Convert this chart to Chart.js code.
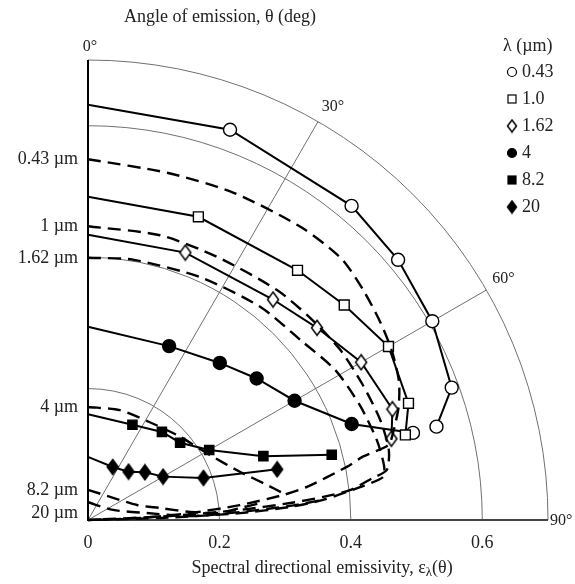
<!DOCTYPE html>
<html><head><meta charset="utf-8">
<script src="https://cdn.jsdelivr.net/npm/chart.js@4.4.0/dist/chart.umd.min.js"></script>
<style>html,body{margin:0;padding:0;background:#fff;overflow:hidden}</style>
</head><body>
<canvas id="c" width="575" height="584" style="width:575px;height:584px;display:block"></canvas>
<script>
// ---------- data ----------
const wavelengths = ['0.43', '1.0', '1.62', '4', '8.2', '20'];
const curveLabels = ['0.43 µm', '1 µm', '1.62 µm', '4 µm', '8.2 µm', '20 µm'];
const xTicks = [0, 0.2, 0.4, 0.6];
const gridRadii = [0.2, 0.4, 0.6, 0.7];
const gridAngles = [30, 60];
const angleLabels = ['0°', '30°', '60°', '90°'];

// measured (theta in deg, spectral directional emissivity)
const thetaVis = [0, 20, 40, 50, 60, 70, 75];
const thetaIR  = [0, 25, 40, 50, 60, 70, 75];
const meas043 = [0.632, 0.632, 0.624, 0.616, 0.605, 0.589, 0.549];
const meas100 = [0.492, 0.491, 0.496, 0.509, 0.528, 0.519, 0.500];
const meas162 = [0.434, 0.433, 0.438, 0.455, 0.480, 0.493, 0.478];
const meas400 = [0.294, 0.292, 0.312, 0.335, 0.363, 0.427, 0.512];
const meas820 = [0.161, 0.160, 0.175, 0.183, 0.213, 0.284, 0.384];
const meas2000 = [0.096, 0.089, 0.096, 0.113, 0.132, 0.187, 0.298];

// electromagnetic-theory curves (dashed)
const thTh043 = [0, 13, 24, 36, 44, 50, 56, 61, 66, 70, 74, 76, 77, 78.4, 81.4, 82.7, 84.4, 86.1, 87.8, 90];
const epTh043 = [0.549, 0.542, 0.545, 0.551, 0.554, 0.546, 0.537, 0.529, 0.518, 0.503, 0.483, 0.471, 0.430, 0.402, 0.337, 0.299, 0.232, 0.156, 0.079, 0];
const thTh100 = [0, 14.2, 26.1, 39.4, 47.7, 56, 63.9, 71.1, 76.9, 80.5, 81.6, 83.5, 84.4, 85.2, 86.2, 87.2, 90];
const epTh100 = [0.447, 0.447, 0.446, 0.453, 0.457, 0.463, 0.466, 0.470, 0.470, 0.461, 0.438, 0.401, 0.359, 0.309, 0.232, 0.125, 0];
const thTh162 = [0, 9.8, 24.7, 38.9, 50, 58.7, 67.1, 74.5, 79.5, 81.7, 83.1, 85.1, 86.3, 87.4, 88.4, 90];
const epTh162 = [0.399, 0.402, 0.407, 0.417, 0.424, 0.440, 0.449, 0.456, 0.458, 0.454, 0.417, 0.359, 0.308, 0.232, 0.110, 0];
const thTh400 = [0, 16.2, 32.3, 47.9, 61.9, 72.5, 78.5, 82.5];
const epTh400 = [0.172, 0.174, 0.176, 0.189, 0.210, 0.243, 0.275, 0.302];
const thTh820 = [0, 48.6, 73, 80.5, 85.5, 86.9, 85.5, 84.4];
const epTh820 = [0.046, 0.051, 0.078, 0.111, 0.156, 0.197, 0.232, 0.263];
const thTh2000 = [0, 68, 83.2, 87.8, 87, 86, 85.1];
const epTh2000 = [0.027, 0.041, 0.090, 0.155, 0.232, 0.308, 0.359];

// ---------- helpers ----------
const D = Math.PI / 180;
function polar(th, ep) { return th.map((t, i) => ({ x: ep[i] * Math.sin(t * D), y: ep[i] * Math.cos(t * D) })); }

function diamond(filled, w, h) {
  const c = document.createElement('canvas');
  c.width = w + 3; c.height = h + 3;
  const g = c.getContext('2d');
  g.beginPath();
  g.moveTo(c.width / 2, 1.5); g.lineTo(c.width - 1.5, c.height / 2);
  g.lineTo(c.width / 2, c.height - 1.5); g.lineTo(1.5, c.height / 2); g.closePath();
  g.fillStyle = filled ? '#000' : '#fff'; g.fill();
  g.lineWidth = 1.5; g.strokeStyle = '#000'; g.stroke();
  return c;
}
const openDia = diamond(false, 11, 15), fillDia = diamond(true, 11, 15);
const openDiaS = diamond(false, 9, 12), fillDiaS = diamond(true, 9, 12);

function dashed(th, ep) {
  return { data: polar(th, ep), showLine: true, borderColor: '#000', borderWidth: 2.4,
    borderDash: [13, 7], pointRadius: 0, tension: 0.25, fill: false, clip: false };
}
function measured(th, ep, style, fillCol, radius, lastFill) {
  const n = th.length;
  return { data: polar(th, ep), showLine: true, borderColor: '#000', borderWidth: 2, tension: 0,
    pointStyle: style, pointRadius: th.map((t, i) => i === 0 ? 0 : radius),
    pointBackgroundColor: th.map((t, i) => (i === n - 1 && lastFill) ? lastFill : fillCol),
    pointBorderColor: '#000', pointBorderWidth: 1.4, clip: false };
}

const SERIF = '"Liberation Serif", "Times New Roman", "DejaVu Serif", serif';

const decor = {
  id: 'decor',
  beforeDatasetsDraw(chart) {
    const { ctx, scales: { x, y } } = chart;
    const cx = x.getPixelForValue(0), cy = y.getPixelForValue(0);
    const R = r => x.getPixelForValue(r) - cx;
    const outer = gridRadii[gridRadii.length - 1];
    ctx.save();
    ctx.strokeStyle = '#707070'; ctx.lineWidth = 1;
    gridRadii.forEach(r => { ctx.beginPath(); ctx.arc(cx, cy, R(r), -Math.PI / 2, 0); ctx.stroke(); });
    gridAngles.forEach(a => {
      ctx.beginPath(); ctx.moveTo(cx, cy);
      ctx.lineTo(cx + R(outer) * Math.sin(a * D), cy - R(outer) * Math.cos(a * D)); ctx.stroke();
    });
    ctx.strokeStyle = '#444'; ctx.lineWidth = 2;
    ctx.beginPath(); ctx.moveTo(cx, cy); ctx.lineTo(cx + R(outer), cy); ctx.stroke();
    ctx.restore();
  },
  afterDatasetsDraw(chart) {
    const { ctx, scales: { x, y } } = chart;
    const cx = x.getPixelForValue(0), cy = y.getPixelForValue(0);
    const R = r => x.getPixelForValue(r) - cx;
    const outer = gridRadii[gridRadii.length - 1];
    ctx.save();
    // vertical axis
    ctx.strokeStyle = '#000'; ctx.lineWidth = 2;
    ctx.beginPath(); ctx.moveTo(cx, cy - R(outer)); ctx.lineTo(cx, cy + 1); ctx.stroke();
    ctx.fillStyle = '#222';
    // angle labels
    ctx.font = '16px ' + SERIF; ctx.textBaseline = 'middle';
    const angs = [0, 30, 60, 90];
    const offs = [[2, -13, 'center'], [15, -15, 'center'], [17, -11, 'center'], [2, 1, 'left']];
    angs.forEach((a, i) => {
      const px = cx + R(outer) * Math.sin(a * D), py = cy - R(outer) * Math.cos(a * D);
      ctx.textAlign = offs[i][2];
      ctx.fillText(angleLabels[i], px + offs[i][0], py + offs[i][1]);
    });
    // x tick labels
    ctx.font = '18px ' + SERIF; ctx.textAlign = 'center';
    xTicks.forEach(v => ctx.fillText(String(v), x.getPixelForValue(v), cy + 23));
    // curve labels on the vertical axis
    const starts = [epTh043[0], epTh100[0], epTh162[0], epTh400[0], epTh820[0], epTh2000[0]];
    const dy = [0, 0, 0, 0, 0, 11];
    ctx.textAlign = 'right';
    curveLabels.forEach((t, i) => ctx.fillText(t, cx - 10, y.getPixelForValue(starts[i]) + dy[i]));
    // top title
    ctx.textAlign = 'center';
    ctx.fillText('Angle of emission, θ (deg)', 220, 17);
    // bottom title with subscript
    const a = 'Spectral directional emissivity, ε', b = 'λ', c = '(θ)';
    ctx.font = '18px ' + SERIF; const wa = ctx.measureText(a).width, wc = ctx.measureText(c).width;
    ctx.font = '13px ' + SERIF; const wb = ctx.measureText(b).width;
    let sx = 322 - (wa + wb + wc) / 2;
    ctx.textAlign = 'left';
    ctx.font = '18px ' + SERIF; ctx.fillText(a, sx, 568);
    ctx.font = '13px ' + SERIF; ctx.fillText(b, sx + wa, 573);
    ctx.font = '18px ' + SERIF; ctx.fillText(c, sx + wa + wb, 568);
    // legend
    ctx.fillText('λ (µm)', 503, 46);
    const mk = ['oc', 'os', 'od', 'fc', 'fs', 'fd'];
    wavelengths.forEach((w, i) => {
      const ly = 72 + i * 27, lx = 512;
      ctx.fillText(w, 522, ly);
      ctx.lineWidth = 1.2; ctx.strokeStyle = '#000';
      const filled = mk[i][0] === 'f';
      ctx.fillStyle = filled ? '#000' : '#fff';
      if (mk[i][1] === 'c') { ctx.beginPath(); ctx.arc(lx, ly, 4.5, 0, 2 * Math.PI); ctx.fill(); ctx.stroke(); }
      else if (mk[i][1] === 's') { ctx.fillRect(lx - 4, ly - 4, 8, 8); ctx.strokeRect(lx - 4, ly - 4, 8, 8); }
      else { const im = filled ? fillDiaS : openDiaS; ctx.drawImage(im, lx - im.width / 2, ly - im.height / 2); }
      ctx.fillStyle = '#222';
    });
    ctx.restore();
  }
};

new Chart(document.getElementById('c'), {
  type: 'scatter',
  data: {
    datasets: [
      dashed(thTh043, epTh043), dashed(thTh100, epTh100), dashed(thTh162, epTh162),
      dashed(thTh400, epTh400), dashed(thTh820, epTh820), dashed(thTh2000, epTh2000),
      measured(thetaVis, meas043, 'circle', '#fff', 6.5),
      measured(thetaVis, meas100, 'rect', '#fff', 7),
      measured(thetaVis, meas162, openDia, '#fff', 7),
      measured(thetaIR, meas400, 'circle', '#000', 6.5, '#fff'),
      measured(thetaIR, meas820, 'rect', '#000', 6.5),
      measured(thetaIR, meas2000, fillDia, '#000', 7)
    ]
  },
  options: {
    responsive: false, animation: false, events: [],
    layout: { padding: { left: 88, right: 27, top: 60, bottom: 64 } },
    scales: {
      x: { type: 'linear', min: 0, max: 0.7, display: false },
      y: { type: 'linear', min: 0, max: 0.7, display: false }
    },
    plugins: { legend: { display: false }, tooltip: { enabled: false } }
  },
  plugins: [decor]
});
</script>
</body></html>
